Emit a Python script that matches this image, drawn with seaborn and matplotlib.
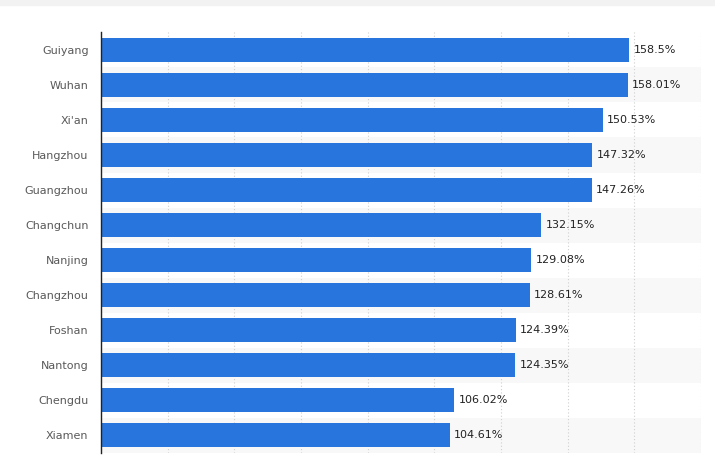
import pandas as pd
import numpy as np
import matplotlib
matplotlib.use("Agg")
import matplotlib.pyplot as plt
import seaborn as sns

cities = ["Guiyang", "Wuhan", "Xi'an", "Hangzhou", "Guangzhou", "Changchun",
          "Nanjing", "Changzhou", "Foshan", "Nantong", "Chengdu", "Xiamen"]
values = [158.5, 158.01, 150.53, 147.32, 147.26, 132.15,
          129.08, 128.61, 124.39, 124.35, 106.02, 104.61]
value_labels = ["158.5%", "158.01%", "150.53%", "147.32%", "147.26%", "132.15%",
                "129.08%", "128.61%", "124.39%", "124.35%", "106.02%", "104.61%"]

df = pd.DataFrame({"city": cities, "value": values})

sns.set_style("white")
plt.rcParams["font.family"] = ["DejaVu Sans"]

fig = plt.figure(figsize=(7.15, 4.57), dpi=100)
# faint band at very top
fig.patches.append(plt.Rectangle((0, 0.989), 1, 0.011, transform=fig.transFigure,
                                 color="#f2f2f2", zorder=0))
ax = fig.add_axes([0.1413, 0.0098, 0.8391, 0.9191])

# alternating row stripes
for i in range(len(cities)):
    if i % 2 == 1:
        ax.axhspan(i - 0.5, i + 0.5, color="#f8f8f8", zorder=0, lw=0)

sns.barplot(data=df, y="city", x="value", orient="h", color="#2876DD",
            saturation=1, width=0.66, ax=ax, zorder=3, edgecolor="none", linewidth=0)

ax.set_xlim(0, 180)
ax.set_ylim(len(cities) - 0.5, -0.5)
ax.set_xticks(np.arange(0, 181, 20))
ax.grid(axis="x", linestyle=(0, (1, 2)), color="#cfcfcf", lw=0.8, zorder=1)
ax.set_axisbelow(True)
ax.tick_params(axis="x", length=0, labelbottom=False)
ax.tick_params(axis="y", length=0, labelsize=8, colors="#595959", pad=9)
ax.set_xlabel("")
ax.set_ylabel("")
for s in ["top", "right", "bottom"]:
    ax.spines[s].set_visible(False)
ax.spines["left"].set_color("#222222")
ax.spines["left"].set_linewidth(1)
ax.spines["left"].set_zorder(5)

for i, (v, lab) in enumerate(zip(values, value_labels)):
    ax.text(v + 1.3, i, lab, va="center", ha="left", fontsize=8,
            color="#222222", zorder=4)

plt.savefig("out.png", dpi=100)
